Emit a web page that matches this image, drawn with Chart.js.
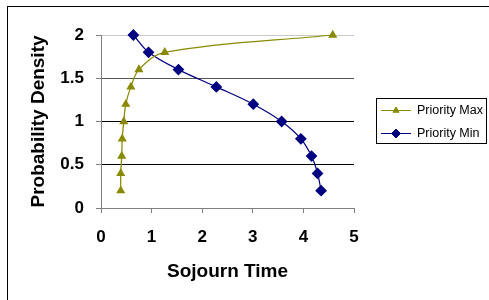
<!DOCTYPE html>
<html>
<head>
<meta charset="utf-8">
<script src="https://cdn.jsdelivr.net/npm/chart.js@4.4.1/dist/chart.umd.min.js"></script>
<style>
  html, body { margin: 0; padding: 0; background: #fff; }
  #wrap { width: 489px; height: 300px; position: relative; }
</style>
</head>
<body>
<div id="wrap"><canvas id="chart"></canvas></div>
<script>
// values
const seriesNames = ['Priority Max', 'Priority Min'];
const maxX = [0.39, 0.39, 0.41, 0.42, 0.45, 0.49, 0.59, 0.75, 1.26, 4.58];
const maxY = [0.2, 0.4, 0.6, 0.8, 1.0, 1.2, 1.4, 1.6, 1.8, 2.0];
const minX = [0.64, 0.94, 1.53, 2.28, 3.01, 3.57, 3.95, 4.16, 4.28, 4.35];
const minY = [2.0, 1.8, 1.6, 1.4, 1.2, 1.0, 0.8, 0.6, 0.4, 0.2];
const xTicks = [0, 1, 2, 3, 4, 5];
const yTicks = [0, 0.5, 1, 1.5, 2];

const toPoints = (xs, ys) => xs.map((x, i) => ({ x: x, y: ys[i] }));

Chart.defaults.font.family = "'Liberation Sans', Arial, sans-serif";
Chart.defaults.color = '#000';

// outer frame, cut off at right and bottom like the picture
const framePlugin = {
    id: 'frame',
    beforeDraw(chart) {
        const ctx = chart.ctx;
        ctx.save();
        ctx.strokeStyle = '#000';
        ctx.lineWidth = 1;
        ctx.strokeRect(7.5, 6.5, 600, 400);
        ctx.restore();
    }
};

// boxed legend to the right of the plot
const boxLegend = {
    id: 'boxLegend',
    afterDraw(chart) {
        const ctx = chart.ctx;
        ctx.save();
        ctx.strokeStyle = '#000';
        ctx.lineWidth = 1;
        ctx.strokeRect(376.5, 98.5, 110, 45);
        chart.data.datasets.forEach((ds, i) => {
            const y = 110.5 + i * 23;
            ctx.strokeStyle = ds.borderColor;
            ctx.lineWidth = 1;
            ctx.beginPath();
            ctx.moveTo(381, y);
            ctx.lineTo(411, y);
            ctx.stroke();
            ctx.fillStyle = ds.backgroundColor;
            Chart.helpers.drawPoint(ctx, {
                pointStyle: ds.pointStyle,
                radius: ds.pointRadius - 0.5,
                rotation: 0,
                borderWidth: 1
            }, 396, y);
            ctx.fillStyle = '#000';
            ctx.font = "12.5px 'Liberation Sans', Arial, sans-serif";
            ctx.textBaseline = 'middle';
            ctx.textAlign = 'left';
            ctx.fillText(ds.label, 417, y);
        });
        ctx.restore();
    }
};

new Chart(document.getElementById('chart'), {
    type: 'scatter',
    data: {
        datasets: [
            {
                label: seriesNames[0],
                data: toPoints(maxX, maxY),
                showLine: true,
                tension: 0.35,
                borderColor: '#8a8a00',
                backgroundColor: '#8a8a00',
                borderWidth: 1.25,
                pointStyle: 'triangle',
                pointRadius: 4,
                pointHoverRadius: 4,
                clip: false
            },
            {
                label: seriesNames[1],
                data: toPoints(minX, minY),
                showLine: true,
                tension: 0.35,
                borderColor: '#000080',
                backgroundColor: '#000080',
                borderWidth: 1.25,
                pointStyle: 'rectRot',
                pointRadius: 5,
                pointHoverRadius: 5,
                clip: false
            }
        ]
    },
    options: {
        responsive: true,
        maintainAspectRatio: false,
        animation: false,
        layout: { padding: { left: 27, top: 35, right: 135, bottom: 17 } },
        plugins: {
            legend: { display: false },
            tooltip: { enabled: false }
        },
        scales: {
            x: {
                type: 'linear',
                min: 0,
                max: 5,
                afterBuildTicks: s => { s.ticks = xTicks.map(v => ({ value: v })); },
                afterFit: s => { s.height = 75; },
                border: { color: '#808080', width: 1 },
                grid: { drawOnChartArea: false, drawTicks: true, tickLength: 5, tickColor: '#808080' },
                ticks: { padding: 14, font: { size: 17, weight: 'bold' }, callback: v => String(v) },
                title: {
                    display: true,
                    text: 'Sojourn Time',
                    padding: 0,
                    font: { size: 19, weight: 'bold' }
                }
            },
            y: {
                min: 0,
                max: 2,
                afterBuildTicks: s => { s.ticks = yTicks.map(v => ({ value: v })); },
                afterFit: s => { s.width = 74; },
                border: { color: '#808080', width: 1 },
                grid: {
                    color: c => {
                        const v = c.tick && c.tick.value;
                        if (v === 0) return '#808080';
                        if (v === 2) return '#c8c8c8';
                        if (v === 1.5) return '#555';
                        return '#000';
                    },
                    tickColor: '#808080',
                    tickLength: 5
                },
                ticks: { padding: 12, font: { size: 17, weight: 'bold' }, callback: v => String(v) },
                title: {
                    display: true,
                    text: 'Probability Density',
                    padding: 0,
                    font: { size: 19, weight: 'bold' }
                }
            }
        }
    },
    plugins: [framePlugin, boxLegend]
});
</script>
</body>
</html>
